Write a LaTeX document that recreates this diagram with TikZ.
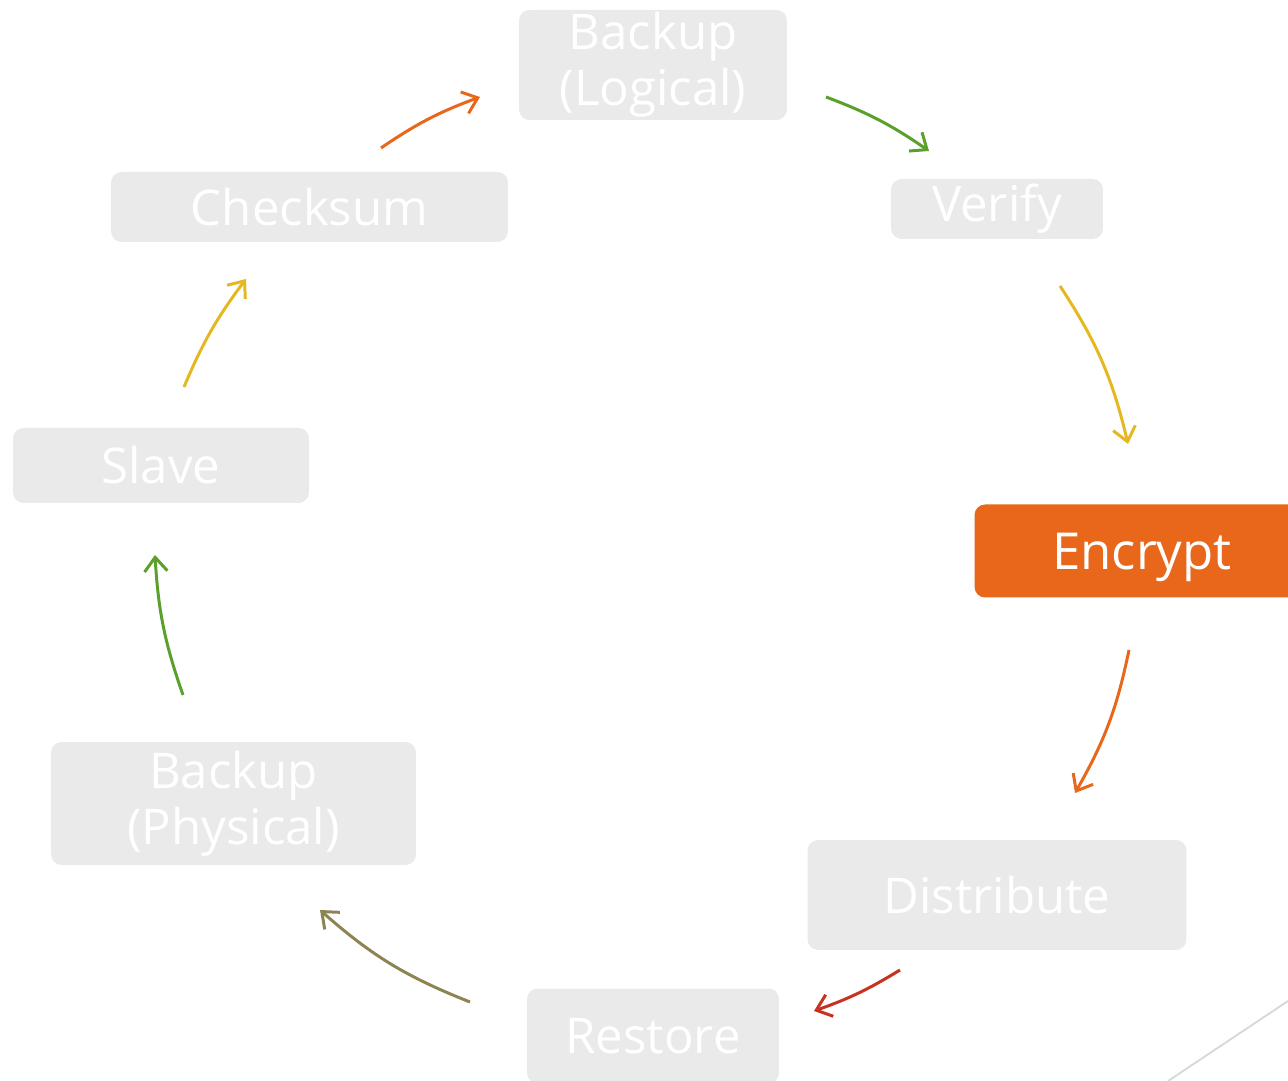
\documentclass[tikz,border=0pt]{standalone}
\usepackage{fontspec}
\setmainfont{Open Sans}
\usetikzlibrary{arrows.meta}
\definecolor{boxgray}{HTML}{EAEAEA}
\definecolor{cOrange}{HTML}{E8671A}
\definecolor{cGreen}{HTML}{5AA02A}
\definecolor{cYellow}{HTML}{E5B822}
\definecolor{cRed}{HTML}{C8321E}
\definecolor{cOlive}{HTML}{8C8551}
\definecolor{lineGray}{HTML}{D9D9D9}
\tikzset{
  stage/.style={fill=boxgray, rounded corners=6pt, text=white, align=center,
    inner sep=0pt, font=\fontsize{28}{32}\selectfont},
  current/.style={stage, fill=cOrange, font=\fontsize{29}{32}\selectfont},
  flow/.style={line width=1.7pt, -{Straight Barb[length=8pt,width=13pt]}}
}
\begin{document}
\begin{tikzpicture}[x=0.02cm, y=0.02cm]
    \useasboundingbox (0,0) rectangle (1288,1081);

    % Stages
    \node[stage, minimum width=5.36cm, minimum height=2.2cm] (logical) at (653,1016) {Backup\\(Logical)};
    \node[stage, minimum width=4.24cm, minimum height=1.2cm] (verify) at (997,872) {Verify};
    \node[current, minimum width=6.7cm, minimum height=1.86cm] (encrypt) at (1142,530)
      {\raisebox{0pt}[\dimexpr\height+7pt\relax][\depth]{Encrypt}};
    \node[stage, minimum width=7.58cm, minimum height=2.2cm] (distribute) at (997,186) {Distribute};
    \node[stage, minimum width=5.04cm, minimum height=1.9cm] (restore) at (653,45) {Restore};
    \node[stage, minimum width=7.3cm, minimum height=2.46cm] (physical) at (233.5,277.5) {Backup\\(Physical)};
    \node[stage, minimum width=5.92cm, minimum height=1.5cm] (slave) at (161,615.5) {Slave};
    \node[stage, minimum width=7.94cm, minimum height=1.4cm] (checksum) at (309.5,874) {Checksum};

    % Arrow ends
    \coordinate (c1s) at (381,933);  \coordinate (c1e) at (480,984);
    \coordinate (c2s) at (826,984);  \coordinate (c2e) at (929,930);
    \coordinate (c3s) at (1060,795); \coordinate (c3e) at (1128,637);
    \coordinate (c4s) at (1129,431); \coordinate (c4e) at (1075,288);
    \coordinate (c5s) at (900,111);  \coordinate (c5e) at (814,70);
    \coordinate (c6s) at (470,79);   \coordinate (c6e) at (320,171);
    \coordinate (c7s) at (183,386);  \coordinate (c7e) at (155,526);
    \coordinate (c8s) at (184,694);  \coordinate (c8e) at (246,802);

    % Cycle
    \draw[flow, cOrange] (c1s) to[bend left=7] (c1e);
    \draw[flow, cGreen]  (c2s) to[bend left=7] (c2e);
    \draw[flow, cYellow] (c3s) to[bend left=10] (c3e);
    \draw[flow, cOrange] (c4s) to[bend left=9] (c4e);
    \draw[flow, cRed]    (c5s) to[bend left=6] (c5e);
    \draw[flow, cOlive]  (c6s) to[bend left=10] (c6e);
    \draw[flow, cGreen]  (c7s) to[bend left=8] (c7e);
    \draw[flow, cYellow] (c8s) to[bend left=7] (c8e);

    % Corner line
    \coordinate (g1) at (1168,0);
    \coordinate (g2) at (1288,80);
    \draw[lineGray, line width=1.1pt] (g1) -- (g2);
\end{tikzpicture}
\end{document}
